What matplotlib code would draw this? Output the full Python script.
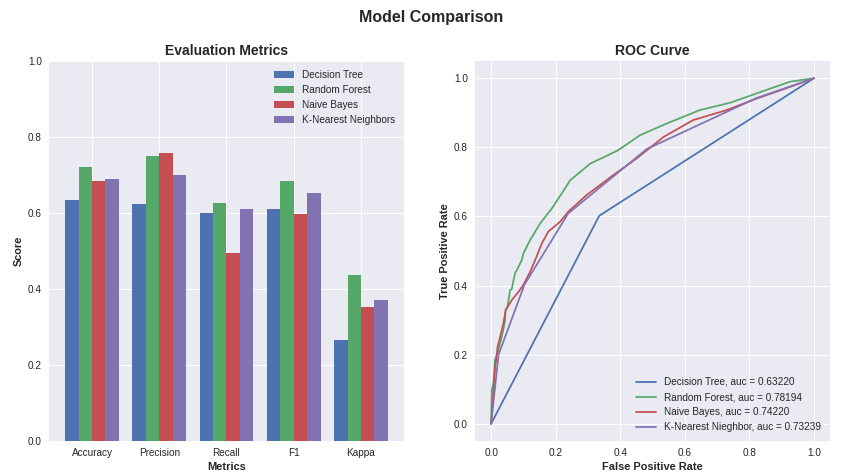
import numpy as np
import matplotlib
matplotlib.use("Agg")
import matplotlib.pyplot as plt

plt.style.use("seaborn-v0_8")

metrics = ["Accuracy", "Precision", "Recall", "F1", "Kappa"]
models = ["Decision Tree", "Random Forest", "Naive Bayes", "K-Nearest Neighbors"]

dt_scores = [0.634, 0.624, 0.600, 0.610, 0.266]
rf_scores = [0.721, 0.750, 0.626, 0.684, 0.438]
nb_scores = [0.684, 0.758, 0.495, 0.597, 0.353]
knn_scores = [0.689, 0.700, 0.610, 0.653, 0.371]

# ROC points
dt_fpr = [0.0, 0.335, 1.0]
dt_tpr = [0.0, 0.602, 1.0]

rf_fpr = [0.0, 0.002, 0.007, 0.012, 0.02, 0.028, 0.033, 0.043, 0.045, 0.05, 0.059,
          0.064, 0.074, 0.08, 0.095, 0.1, 0.121, 0.152, 0.188, 0.219, 0.245, 0.275,
          0.307, 0.35, 0.394, 0.461, 0.544, 0.647, 0.74, 0.822, 0.926, 1.0]
rf_tpr = [0.0, 0.098, 0.118, 0.185, 0.204, 0.234, 0.252, 0.296, 0.33, 0.335, 0.387,
          0.39, 0.436, 0.445, 0.474, 0.493, 0.532, 0.58, 0.623, 0.667, 0.705, 0.728,
          0.753, 0.772, 0.792, 0.835, 0.869, 0.908, 0.929, 0.956, 0.99, 1.0]

nb_fpr = [0.0, 0.012, 0.02, 0.028, 0.038, 0.045, 0.064, 0.085, 0.1, 0.121, 0.141,
          0.157, 0.177, 0.214, 0.239, 0.296, 0.379, 0.451, 0.534, 0.626, 0.73,
          0.822, 0.926, 1.0]
nb_tpr = [0.0, 0.156, 0.223, 0.252, 0.291, 0.329, 0.358, 0.382, 0.402, 0.44, 0.484,
          0.522, 0.556, 0.585, 0.614, 0.662, 0.72, 0.768, 0.83, 0.879, 0.908,
          0.941, 0.975, 1.0]

knn_fpr = [0.0, 0.023, 0.103, 0.239, 0.482, 0.82, 1.0]
knn_tpr = [0.0, 0.200, 0.402, 0.609, 0.795, 0.942, 1.0]

roc_labels = ["Decision Tree, auc = 0.63220", "Random Forest, auc = 0.78194",
              "Naive Bayes, auc = 0.74220", "K-Nearest Nieghbor, auc = 0.73239"]

fig, (ax1, ax2) = plt.subplots(1, 2, figsize=(862 / 72, 474 / 72), dpi=72)
fig.suptitle("Model Comparison", fontsize=16, fontweight="bold", y=0.978)

x = np.arange(len(metrics))
width = 0.2
for i, (name, vals) in enumerate(zip(models, [dt_scores, rf_scores, nb_scores, knn_scores])):
    ax1.bar(x + (i - 1.5) * width, vals, width, label=name)
ax1.set_xticks(x)
ax1.set_xticklabels(metrics)
ax1.set_ylim(0, 1)
ax1.set_xlabel("Metrics", fontweight="bold")
ax1.set_ylabel("Score", fontweight="bold")
ax1.set_title("Evaluation Metrics", fontsize=14, fontweight="bold")
ax1.legend(loc="upper right")

for f, t, lab in zip([dt_fpr, rf_fpr, nb_fpr, knn_fpr], [dt_tpr, rf_tpr, nb_tpr, knn_tpr], roc_labels):
    ax2.plot(f, t, label=lab)
ax2.set_xlabel("False Positive Rate", fontweight="bold")
ax2.set_ylabel("True Positive Rate", fontweight="bold")
ax2.set_title("ROC Curve", fontsize=14, fontweight="bold")
ax2.legend(loc="lower right")

fig.subplots_adjust(left=49 / 862, right=830 / 862, top=1 - 61 / 474,
                    bottom=1 - 441 / 474, wspace=0.2)
plt.savefig("out.png", dpi=72)
